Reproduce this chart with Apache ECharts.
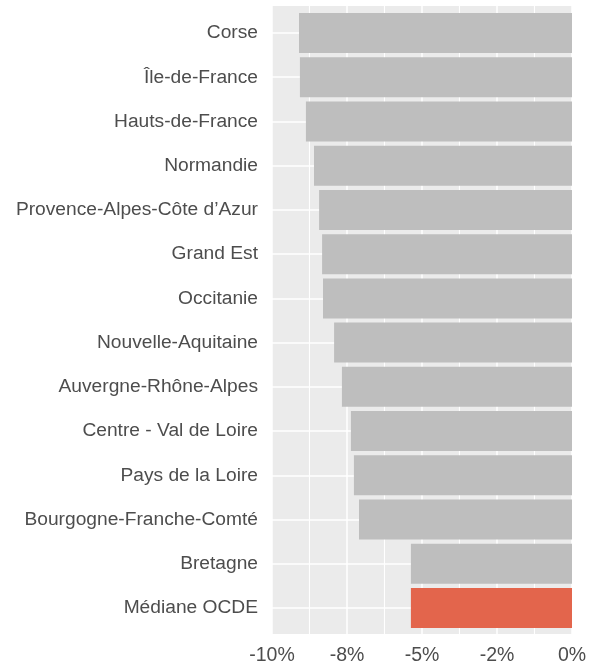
<!DOCTYPE html>
<html>
<head>
<meta charset="utf-8">
<script src="https://cdn.jsdelivr.net/npm/echarts@6/dist/echarts.min.js"></script>
<style>
  html, body { margin: 0; padding: 0; background: #fff; }
  #chart { width: 592px; height: 670px; }
</style>
</head>
<body>
<div id="chart"></div>
<script>
// regions, top to bottom
const regions = [
  'Corse', 'Île-de-France', 'Hauts-de-France', 'Normandie',
  'Provence-Alpes-Côte d’Azur', 'Grand Est', 'Occitanie', 'Nouvelle-Aquitaine',
  'Auvergne-Rhône-Alpes', 'Centre - Val de Loire', 'Pays de la Loire',
  'Bourgogne-Franche-Comté', 'Bretagne', 'Médiane OCDE'
]
// variation in %
const values = [-9.1, -9.07, -8.87, -8.6, -8.43, -8.33, -8.3, -7.93, -7.67, -7.37, -7.27, -7.1, -5.37, -5.37]
const tickLabels = ['-10%', '-8%', '-5%', '-2%', '0%']

const textColor = '#4D4D4D'
const font = '"Liberation Sans", Arial, sans-serif'

const chart = echarts.init(document.getElementById('chart'))

const option = {
  animation: false,
  grid: [
    // panel background + vertical grid
    { left: 272, width: 300, top: 6, height: 628, show: true, backgroundColor: '#EBEBEB', borderWidth: 0 },
    // bars, category centres from first to last
    { left: 272, width: 300, top: 33, height: 575 }
  ],
  xAxis: [
    {
      gridIndex: 0,
      type: 'value',
      min: -10,
      max: 0,
      interval: 2.5,
      axisLine: { show: false },
      axisTick: { show: false },
      axisLabel: {
        color: textColor,
        fontSize: 19.5,
        fontFamily: font,
        margin: 12,
        formatter: (v, i) => tickLabels[i]
      },
      splitLine: { show: true, lineStyle: { color: '#fff', width: 1.5 } },
      minorTick: { show: false, splitNumber: 2 },
      minorSplitLine: { show: true, lineStyle: { color: '#fff', width: 1.1 } }
    },
    {
      gridIndex: 1,
      type: 'value',
      min: -10,
      max: 0,
      show: false
    }
  ],
  yAxis: [
    { gridIndex: 0, type: 'value', show: false },
    {
      gridIndex: 1,
      type: 'category',
      data: regions,
      inverse: true,
      boundaryGap: false,
      axisLine: { show: false },
      axisTick: { show: false },
      axisLabel: {
        color: textColor,
        fontSize: 19.2,
        fontFamily: font,
        margin: 14
      },
      splitLine: { show: true, lineStyle: { color: '#fff', width: 1.6 } }
    }
  ],
  series: [
    {
      type: 'bar',
      xAxisIndex: 1,
      yAxisIndex: 1,
      barWidth: 40,
      data: values.map((v, i) => ({
        value: v,
        itemStyle: { color: regions[i] === 'Médiane OCDE' ? '#E3654C' : '#BEBEBE' }
      }))
    }
  ]
}

chart.setOption(option)
</script>
</body>
</html>
